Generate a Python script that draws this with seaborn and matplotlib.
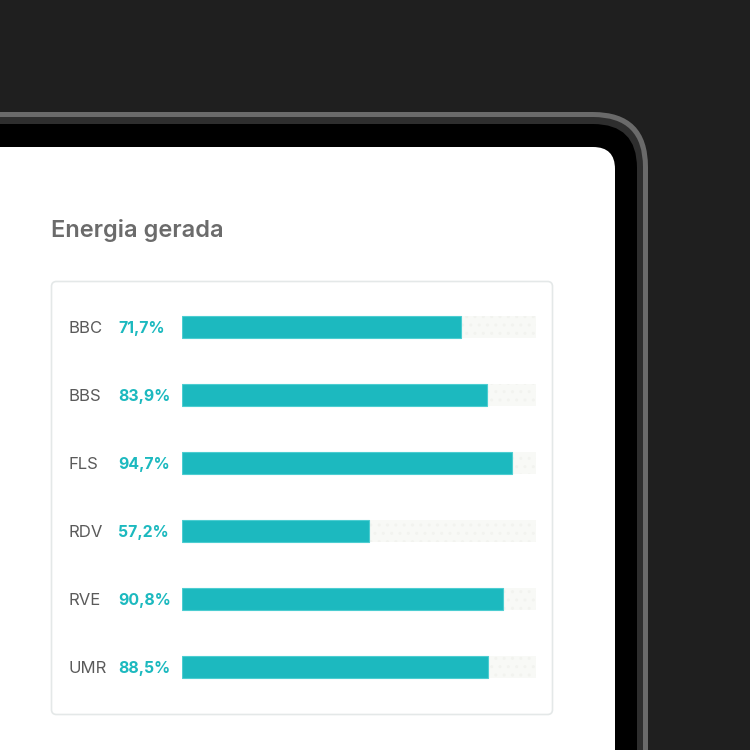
import matplotlib
matplotlib.use("Agg")
import matplotlib.pyplot as plt
import matplotlib.transforms as mtransforms
from matplotlib.patches import FancyBboxPatch
import seaborn as sns
import pandas as pd

# dados
usinas = ["BBC", "BBS", "FLS", "RDV", "RVE", "UMR"]
rotulos = ["71,7%", "83,9%", "94,7%", "57,2%", "90,8%", "88,5%"]
# fração preenchida de cada barra, medida na figura
preenchimento = [0.788, 0.862, 0.931, 0.528, 0.908, 0.865]
titulo = "Energia gerada"

TEAL = "#1cb9bf"
TRILHA = "#f8f9f6"
CINZA_TXT = "#5a5a5a"

sns.set_theme(style="white")
plt.rcParams["font.family"] = ["Inter", "DejaVu Sans"]

df = pd.DataFrame({"usina": usinas, "valor": preenchimento, "total": [1.0] * len(usinas)})

fig = plt.figure(figsize=(7.5, 7.5), dpi=100)
fig.patch.set_facecolor("#1f1f1f")

# --- camada de fundo em coordenadas de pixel ---
bg = fig.add_axes([0, 0, 1, 1])
bg.set_xlim(0, 750)
bg.set_ylim(750, 0)
bg.axis("off")

# moldura do aparelho (borda cinza, faixa escura, bezel preto, tela branca)
bg.add_patch(FancyBboxPatch((-200, 112), 848, 900, boxstyle="round,pad=0,rounding_size=55",
                            facecolor="#6a6a6a", edgecolor="none"))
bg.add_patch(FancyBboxPatch((-200, 117), 843, 900, boxstyle="round,pad=0,rounding_size=50",
                            facecolor="#2e2e2e", edgecolor="none"))
bg.add_patch(FancyBboxPatch((-200, 124), 837, 900, boxstyle="round,pad=0,rounding_size=44",
                            facecolor="#000000", edgecolor="none"))
bg.add_patch(FancyBboxPatch((-200, 147), 815, 900, boxstyle="round,pad=0,rounding_size=22",
                            facecolor="#ffffff", edgecolor="none"))

# cartão
bg.add_patch(FancyBboxPatch((51.5, 281.5), 501, 433, boxstyle="round,pad=0,rounding_size=5",
                            facecolor="#ffffff", edgecolor="#e4e8e8", linewidth=1.2))

bg.text(51, 237, titulo, fontsize=17, color="#6b6b6b", fontweight="semibold",
        ha="left", va="baseline")

# --- barras ---
ax = fig.add_axes([182 / 750, 1 - 701 / 750, 354 / 750, 408 / 750])
sns.barplot(data=df, x="total", y="usina", orient="h", color=TRILHA, width=0.31,
            saturation=1, hatch="..", edgecolor="#f2f3ef", linewidth=0, ax=ax)
sns.barplot(data=df, x="valor", y="usina", orient="h", color=TEAL, width=0.31,
            saturation=1, edgecolor="#4ccdd1", linewidth=0.8, ax=ax)
for p in ax.patches[:len(usinas)]:
    p.set_facecolor(TRILHA)
    p.set_edgecolor("#f2f3ef")
    p.set_linewidth(0)
ax.set_xlim(0, 1)
ax.set_ylim(len(usinas) - 0.5, -0.5)
ax.axis("off")

tr = mtransforms.blended_transform_factory(bg.transData, ax.transData)
for i, (u, r) in enumerate(zip(usinas, rotulos)):
    ax.text(68, i, u, transform=tr, fontsize=12, color=CINZA_TXT,
            ha="left", va="center_baseline")
    ax.text(118, i, r, transform=tr, fontsize=11.4, color=TEAL, fontweight="bold",
            ha="left", va="center_baseline")

fig.savefig("out.png", dpi=100, facecolor=fig.get_facecolor())
